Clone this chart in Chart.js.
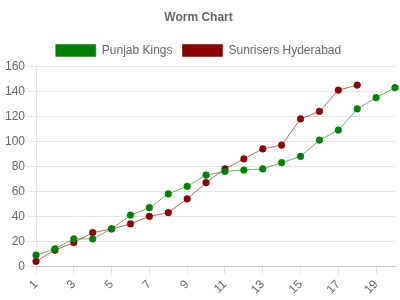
<!DOCTYPE html>
<html>
<head>
<meta charset="utf-8">
<script src="https://cdn.jsdelivr.net/npm/chart.js@4/dist/chart.umd.min.js"></script>
<style>
  html, body { margin: 0; padding: 0; background: #fff; }
  #wrap { width: 400px; height: 300px; }
</style>
</head>
<body>
<div id="wrap"><canvas id="wormChart"></canvas></div>
<script>
// --- DONNEES ---
const overs = ["1", "2", "3", "4", "5", "6", "7", "8", "9", "10",
  "11", "12", "13", "14", "15", "16", "17", "18", "19", "20"];
const punjabKings = [9, 14, 22, 22, 30, 41, 47, 58, 64, 73,
  76, 77, 78, 83, 88, 101, 109, 126, 135, 143];
const sunrisers = [4, 13, 19, 27, 30, 34, 40, 43, 54, 67,
  78, 86, 94, 97, 118, 124, 141, 145];

Chart.defaults.font.family = "'Liberation Sans', Arial, sans-serif";
Chart.defaults.font.size = 12;
Chart.defaults.color = "#666";

// --- GRAPHIQUE ---
new Chart(document.getElementById("wormChart"), {
  type: "line",
  data: {
    labels: overs,
    datasets: [
      {
        label: "Punjab Kings",
        data: punjabKings,
        backgroundColor: "#008000",
        borderColor: "rgba(0,128,0,0.6)",
        borderWidth: 1,
        pointRadius: 3.3,
        pointBorderWidth: 1,
        fill: false,
        tension: 0,
      },
      {
        label: "Sunrisers Hyderabad",
        data: sunrisers,
        backgroundColor: "#8b0000",
        borderColor: "rgba(139,0,0,0.6)",
        borderWidth: 1,
        pointRadius: 3.3,
        pointBorderWidth: 1,
        fill: false,
        tension: 0,
      },
    ],
  },
  options: {
    responsive: true,
    maintainAspectRatio: false,
    animation: false,
    layout: { padding: { left: 2, right: 5 } },
    plugins: {
      title: {
        display: true,
        text: "Worm Chart",
        font: { weight: "bold", size: 12 },
        padding: 10,
      },
      legend: {
        labels: { boxWidth: 40, boxHeight: 12, padding: 10 },
      },
      tooltip: { enabled: false },
    },
    scales: {
      x: {
        offset: false,
        grid: { drawOnChartArea: false, tickLength: 8, color: "rgba(0,0,0,0.1)" },
        border: { color: "rgba(0,0,0,0.15)" },
        afterBuildTicks: (axis) => {
          axis.ticks = axis.ticks.filter((t, i) => i % 2 === 0);
        },
        ticks: { autoSkip: false, minRotation: 45, maxRotation: 45 },
      },
      y: {
        min: 0,
        max: 160,
        grid: { tickLength: 8, color: "rgba(0,0,0,0.1)" },
        border: { color: "rgba(0,0,0,0.1)" },
        ticks: { stepSize: 20 },
      },
    },
  },
});
</script>
</body>
</html>
